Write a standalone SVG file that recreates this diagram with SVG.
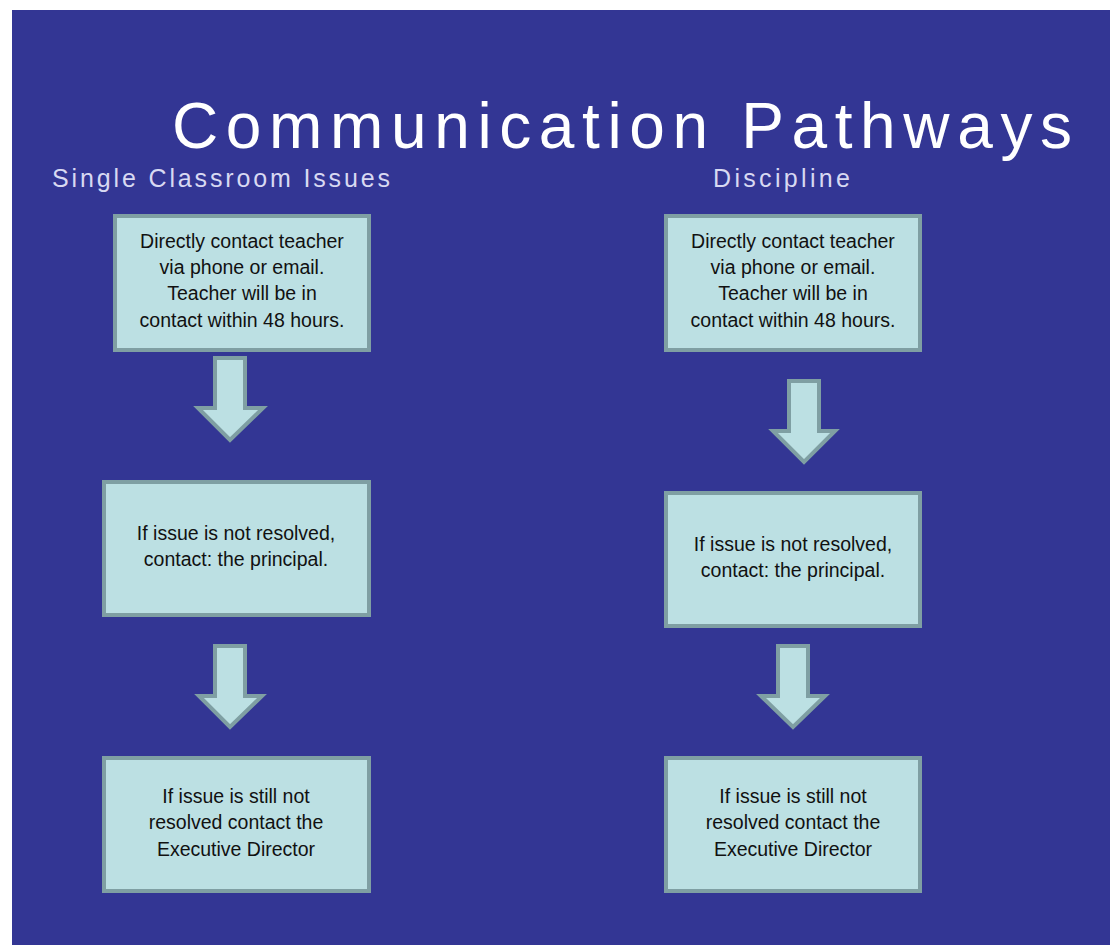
<svg xmlns="http://www.w3.org/2000/svg" width="1110" height="945" viewBox="0 0 1110 945">
<defs>
<style>
.box{fill:#BCE0E3;stroke:#7F9FA3;stroke-width:4}
.arr{fill:#BCE0E3;stroke:#7F9FA3;stroke-width:4;stroke-linejoin:miter}
.t{font-family:"Liberation Sans",Arial,sans-serif;font-size:19.5px;fill:#111;text-anchor:middle}
.title{font-family:"Liberation Sans",Arial,sans-serif;font-size:64px;fill:#FFFFFF}
.sub{font-family:"Liberation Sans",Arial,sans-serif;font-size:25px;fill:#D8D9F2}
</style>
</defs>
<rect x="0" y="0" width="1110" height="945" fill="#FFFFFF"/>
<rect x="12" y="10" width="1098" height="935" fill="#333694"/>
<g id="title">
<text class="title" x="172" y="148" textLength="900" lengthAdjust="spacing">Communication Pathways</text>
</g>
<g id="heading-left"><text class="sub" x="52" y="187" textLength="338" lengthAdjust="spacing">Single Classroom Issues</text></g>
<g id="heading-right"><text class="sub" x="713" y="187" textLength="137" lengthAdjust="spacing">Discipline</text></g>

<g id="connectors">
<path class="arr" d="M215 358 H245 V408 H263 L230 440 L198 408 H215 Z"/>
<path class="arr" d="M215 646 H245 V696 H262 L230 727 L199 696 H215 Z"/>
<path class="arr" d="M789 381 H819 V431 H835 L804 462 L773 431 H789 Z"/>
<path class="arr" d="M778 646 H808 V696 H825 L793 727 L761 696 H778 Z"/>
</g>

<g id="left-1">
<rect class="box" x="115" y="216" width="254" height="134"/>
<text class="t" x="242" y="248">Directly contact teacher</text>
<text class="t" x="242" y="274">via phone or email.</text>
<text class="t" x="242" y="300">Teacher will be in</text>
<text class="t" x="242" y="327">contact within 48 hours.</text>
</g>
<g id="left-2">
<rect class="box" x="104" y="482" width="265" height="133"/>
<text class="t" x="236" y="540">If issue is not resolved,</text>
<text class="t" x="236" y="566">contact: the principal.</text>
</g>
<g id="left-3">
<rect class="box" x="104" y="758" width="265" height="133"/>
<text class="t" x="236" y="803">If issue is still not</text>
<text class="t" x="236" y="829">resolved contact the</text>
<text class="t" x="236" y="856">Executive Director</text>
</g>
<g id="right-1">
<rect class="box" x="666" y="216" width="254" height="134"/>
<text class="t" x="793" y="248">Directly contact teacher</text>
<text class="t" x="793" y="274">via phone or email.</text>
<text class="t" x="793" y="300">Teacher will be in</text>
<text class="t" x="793" y="327">contact within 48 hours.</text>
</g>
<g id="right-2">
<rect class="box" x="666" y="493" width="254" height="133"/>
<text class="t" x="793" y="551">If issue is not resolved,</text>
<text class="t" x="793" y="577">contact: the principal.</text>
</g>
<g id="right-3">
<rect class="box" x="666" y="758" width="254" height="133"/>
<text class="t" x="793" y="803">If issue is still not</text>
<text class="t" x="793" y="829">resolved contact the</text>
<text class="t" x="793" y="856">Executive Director</text>
</g>
</svg>
